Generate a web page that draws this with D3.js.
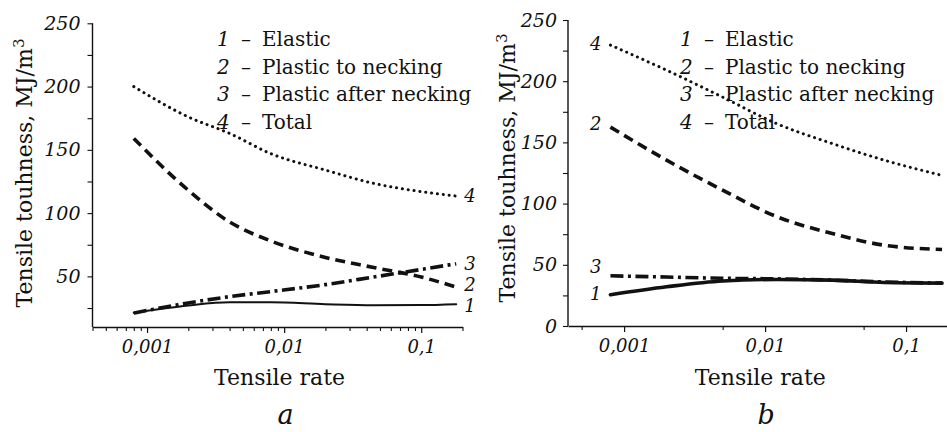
<!DOCTYPE html>
<html>
<head>
<meta charset="utf-8">
<script src="https://cdn.jsdelivr.net/npm/d3@7/dist/d3.min.js"></script>
<style>
  html, body { margin: 0; padding: 0; background: #fff; }
  svg { display: block; }
  svg text { font-family: "DejaVu Serif", "Liberation Serif", "Times New Roman", serif !important; fill: #111; }
</style>
</head>
<body>
<svg id="chart" width="947" height="432" font-family="DejaVu Serif"></svg>
<script>
// ---------- data ----------
const legendNames = ["Elastic", "Plastic to necking", "Plastic after necking", "Total"];
const seriesIds = ["1", "2", "3", "4"];

// Panel a
const ratesA = [0.0008, 0.002, 0.004, 0.008, 0.02, 0.045, 0.1, 0.18];
const elasticA = [21.2, 27, 29.5, 29.5, 28, 27.2, 27.3, 28];
const plasticToNeckingA = [159, 118, 93, 78, 65, 57, 49.5, 41.5];
const plasticAfterNeckingA = [21, 29, 34, 38, 43.5, 49.5, 55.5, 60];
const totalA = [200, 176, 163, 147, 134, 123.5, 117, 113.5];

// Panel b
const ratesB = [0.0008, 0.002, 0.005, 0.012, 0.03, 0.07, 0.18];
const elasticB = [25.5, 32, 36.8, 38, 37.5, 35.5, 35];
const plasticToNeckingB = [162.5, 135.5, 111, 89.5, 75.5, 66, 62.5];
const plasticAfterNeckingB = [41, 40, 39, 38.5, 37.5, 36, 35];
const totalB = [229.5, 209, 187, 165.5, 149, 135.5, 123];

// ticks
const xMajorTicks = [0.001, 0.01, 0.1];
const xMajorLabels = ["0,001", "0,01", "0,1"];
const xMinorTicksA = [0.0004,0.0005,0.0006,0.0007,0.0008,0.0009,
                      0.002,0.003,0.004,0.005,0.006,0.007,0.008,0.009,
                      0.02,0.03,0.04,0.05,0.06,0.07,0.08,0.09,0.2];
const xMinorTicksB = [0.0005, 0.005, 0.05];
const yTicksA = [25, 50, 75, 100, 125, 150, 175, 200, 225, 250];
const yTicksB = [0, 25, 50, 75, 100, 125, 150, 175, 200, 225, 250];
const yLabelTicks = [0, 50, 100, 150, 200, 250];

// ---------- drawing ----------
const FONT = "'DejaVu Serif', 'Liberation Serif', serif";
const svg = d3.select("#chart");
const ink = "#111";

const styles = {
  "1": { dash: null, cap: "round" },
  "2": { dash: "10 6", cap: "butt" },
  "3": { dash: "13 4.5 3 4.5", cap: "butt" },
  "4": { dash: "0.1 5.8", cap: "round" }
};

function txt(sel, size, italic) {
  return sel.style("font-family", FONT).style("font-size", size + "px")
    .style("font-style", italic ? "italic" : "normal").attr("fill", ink);
}

function drawPanel(cfg) {
  const g = svg.append("g");
  const x = d3.scaleLog().domain([0.0004, 0.2]).range(cfg.xRange);
  const y = d3.scaleLinear().domain(cfg.yDomain).range(cfg.yRange);

  const xMinor = g.append("g").attr("transform", `translate(0,${cfg.yRange[0]})`)
    .call(d3.axisBottom(x).tickValues(cfg.xMinor).tickSize(4).tickSizeOuter(0).tickFormat(""));
  xMinor.select(".domain").attr("stroke", ink).attr("stroke-width", 1.4);
  xMinor.selectAll(".tick line").attr("stroke", ink).attr("stroke-width", 1.1);

  const xMaj = g.append("g").attr("transform", `translate(0,${cfg.yRange[0]})`)
    .call(d3.axisBottom(x).tickValues(xMajorTicks).tickSize(6).tickSizeOuter(0)
      .tickFormat((d, i) => xMajorLabels[i]));
  xMaj.attr("font-family", null);
  xMaj.select(".domain").remove();
  xMaj.selectAll(".tick line").attr("stroke", ink).attr("stroke-width", 1.2);
  txt(xMaj.selectAll(".tick text").attr("y", 13).attr("dy", "0.71em"), 18, true);

  const yAx = g.append("g").attr("transform", `translate(${cfg.xRange[0]},0)`)
    .call(d3.axisLeft(y).tickValues(cfg.yTicks).tickSize(5).tickSizeOuter(0)
      .tickFormat(d => yLabelTicks.includes(d) ? String(d) : ""));
  yAx.attr("font-family", null);
  yAx.select(".domain").attr("stroke", ink).attr("stroke-width", 1.4)
    .attr("d", `M0,${cfg.yRange[0]}V${cfg.yRange[1]}`);
  yAx.selectAll(".tick line").attr("stroke", ink).attr("stroke-width", 1.1);
  txt(yAx.selectAll(".tick text").attr("x", -cfg.yLabelGap), 19, true);

  const line = d3.line().x(d => x(d[0])).y(d => y(d[1])).curve(d3.curveMonotoneX);
  cfg.series.forEach(s => {
    const pts = cfg.rates.map((r, i) => [r, s.values[i]]);
    const st = styles[s.id];
    g.append("path").datum(pts)
      .attr("d", line)
      .attr("fill", "none")
      .attr("stroke", ink)
      .attr("stroke-width", s.width)
      .attr("stroke-linecap", st.cap)
      .attr("stroke-dasharray", st.dash);
    const idx = cfg.labelSide === "right" ? pts.length - 1 : 0;
    const p = pts[idx];
    txt(g.append("text")
      .attr("x", cfg.labelSide === "right" ? x(p[0]) + 8 : x(p[0]) - 9)
      .attr("y", y(p[1]) + s.labelDy)
      .attr("text-anchor", cfg.labelSide === "right" ? "start" : "end"), 18, true)
      .text(s.id);
  });

  seriesIds.forEach((id, i) => {
    const ly = cfg.legendY + i * 27.6;
    txt(g.append("text").attr("x", cfg.legendX).attr("y", ly), 20, true).text(id);
    txt(g.append("text").attr("x", cfg.legendX + 24).attr("y", ly), 20, false).text("\u2013");
    txt(g.append("text").attr("x", cfg.legendX + 45).attr("y", ly), 20, false).text(legendNames[i]);
  });

  const xc = (cfg.xRange[0] + cfg.xRange[1]) / 2;
  txt(g.append("text").attr("x", xc + 2).attr("y", 385).attr("text-anchor", "middle"), 22, false)
    .text("Tensile rate");
  const yt = txt(g.append("text")
    .attr("transform", `translate(${cfg.yTitleX},${cfg.yTitleY}) rotate(-90)`)
    .attr("text-anchor", "middle"), 22, false);
  yt.append("tspan").text("Tensile touhness, MJ/m");
  yt.append("tspan").attr("dy", "-0.55em").style("font-size", "15px").text("3");

  txt(g.append("text").attr("x", xc + 8).attr("y", 424).attr("text-anchor", "middle"), 27, true)
    .text(cfg.letter);
}

drawPanel({
  letter: "a",
  xRange: [92.5, 462.5],
  yDomain: [10, 250],
  yRange: [327, 23.3],
  yTicks: yTicksA,
  yLabelGap: 12,
  xMinor: xMinorTicksA,
  rates: ratesA,
  labelSide: "right",
  legendX: 217, legendY: 46,
  yTitleX: 32, yTitleY: 173,
  series: [
    { id: "4", values: totalA, width: 3, labelDy: 6 },
    { id: "2", values: plasticToNeckingA, width: 3.6, labelDy: 4 },
    { id: "3", values: plasticAfterNeckingA, width: 3.6, labelDy: 6 },
    { id: "1", values: elasticA, width: 2, labelDy: 8 }
  ]
});

drawPanel({
  letter: "b",
  xRange: [568, 948.5],
  yDomain: [0, 250],
  yRange: [326, 20],
  yTicks: yTicksB,
  yLabelGap: 11,
  xMinor: xMinorTicksB,
  rates: ratesB,
  labelSide: "left",
  legendX: 680, legendY: 46,
  yTitleX: 515, yTitleY: 168,
  series: [
    { id: "4", values: totalB, width: 3, labelDy: 5 },
    { id: "2", values: plasticToNeckingB, width: 3.6, labelDy: 3 },
    { id: "3", values: plasticAfterNeckingB, width: 3.6, labelDy: -3 },
    { id: "1", values: elasticB, width: 3.6, labelDy: 5 }
  ]
});
</script>
</body>
</html>
